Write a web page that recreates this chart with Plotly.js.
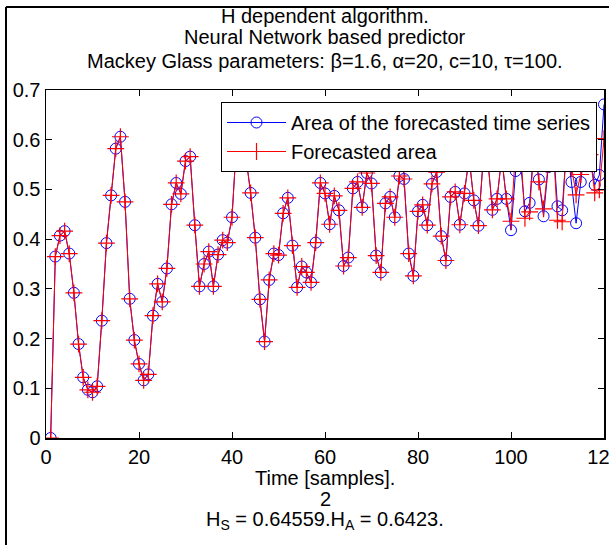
<!DOCTYPE html>
<html>
<head>
<meta charset="utf-8">
<script src="https://cdn.plot.ly/plotly-3.0.1.min.js"></script>
<style>
  html, body { margin: 0; padding: 0; background: #ffffff; }
  #chart { width: 609px; height: 545px; }
</style>
</head>
<body>
<div id="chart"></div>
<script>
// ---- data ----
const samples = [
  1,2,3,4,5,6,7,8,9,10,11,12,13,14,15,16,17,18,19,20,
  21,22,23,24,25,26,27,28,29,30,31,32,33,34,35,36,37,38,39,40,
  41,42,43,44,45,46,47,48,49,50,51,52,53,54,55,56,57,58,59,60,
  61,62,63,64,65,66,67,68,69,70,71,72,73,74,75,76,77,78,79,80,
  81,82,83,84,85,86,87,88,89,90,91,92,93,94,95,96,97,98,99,100,
  101,102,103,104,105,106,107,108,109,110,111,112,113,114,115,116,117,118,119,120
];

const areaSeries = [
  0.000,0.365,0.407,0.416,0.371,0.292,0.189,0.122,0.097,0.092,
  0.104,0.236,0.392,0.488,0.582,0.606,0.475,0.280,0.197,0.149,
  0.116,0.128,0.246,0.310,0.274,0.341,0.470,0.513,0.491,0.557,
  0.566,0.428,0.305,0.350,0.375,0.305,0.369,0.398,0.393,0.444,
  0.600,0.620,0.565,0.493,0.403,0.279,0.194,0.318,0.371,0.368,
  0.452,0.483,0.387,0.303,0.345,0.333,0.313,0.393,0.513,0.492,
  0.430,0.487,0.458,0.346,0.363,0.502,0.515,0.464,0.533,0.512,
  0.367,0.333,0.472,0.485,0.444,0.527,0.521,0.371,0.326,0.456,
  0.469,0.428,0.511,0.535,0.406,0.357,0.485,0.495,0.429,0.492,
  0.563,0.478,0.427,0.558,0.561,0.459,0.481,0.565,0.481,0.418,
  0.537,0.561,0.456,0.473,0.595,0.520,0.446,0.545,0.600,0.466,
  0.458,0.595,0.515,0.432,0.515,0.600,0.559,0.509,0.529,0.671
];

const forecastedArea = [
  0.000,0.365,0.407,0.416,0.371,0.292,0.189,0.122,0.097,0.092,
  0.104,0.236,0.392,0.488,0.582,0.606,0.475,0.280,0.197,0.149,
  0.116,0.128,0.246,0.310,0.274,0.341,0.470,0.513,0.491,0.557,
  0.566,0.428,0.305,0.350,0.375,0.305,0.369,0.398,0.393,0.444,
  0.600,0.620,0.565,0.493,0.403,0.279,0.194,0.318,0.371,0.368,
  0.452,0.483,0.387,0.303,0.345,0.333,0.313,0.393,0.513,0.492,
  0.430,0.487,0.458,0.346,0.363,0.502,0.515,0.464,0.533,0.512,
  0.367,0.333,0.472,0.485,0.444,0.527,0.521,0.371,0.326,0.456,
  0.469,0.428,0.511,0.535,0.406,0.357,0.485,0.495,0.429,0.492,
  0.563,0.478,0.427,0.558,0.561,0.459,0.481,0.565,0.481,0.436,
  0.580,0.590,0.442,0.455,0.595,0.515,0.461,0.550,0.600,0.438,
  0.435,0.605,0.542,0.489,0.530,0.610,0.570,0.493,0.499,0.602
];

const seriesNames = ['Area of the forecasted time series', 'Forecasted area'];
const titleLines = [
  'H dependent algorithm.',
  'Neural Network based predictor',
  'Mackey Glass parameters: \u03B2=1.6, \u03B1=20, c=10, \u03C4=100.'
];
const xLabelLines = ['Time [samples].', '2', 'H<sub>S</sub> = 0.64559.H<sub>A</sub> = 0.6423.'];
const xTicks = [0, 20, 40, 60, 80, 100, 120];
const yTicks = [0, 0.1, 0.2, 0.3, 0.4, 0.5, 0.6, 0.7];

// ---- drawing ----
const FONT = 'Arial, Liberation Sans, Helvetica, sans-serif';

const traces = [
  {
    x: samples, y: areaSeries, name: seriesNames[0],
    type: 'scatter', mode: 'lines+markers',
    line: { color: '#0000ff', width: 1 },
    marker: { symbol: 'circle-open', size: 11, color: '#0000ff', line: { color: '#0000ff', width: 1 } }
  },
  {
    x: samples, y: forecastedArea, name: seriesNames[1],
    type: 'scatter', mode: 'lines+markers',
    line: { color: '#ff0000', width: 1 },
    marker: { symbol: 'cross-thin', size: 12, color: '#ff0000', line: { color: '#ff0000', width: 1.2 } }
  }
];

const L = 46, R = 5, T = 90, B = 107, W = 609, H = 545;
const plotW = W - L - R, plotH = H - T - B;
const px2x = p => (p - L) / plotW;
const py2y = p => (H - B - p) / plotH;

const annotations = [];
[16, 37.5, 61].forEach((py, i) => {
  annotations.push({
    text: titleLines[i], xref: 'paper', yref: 'paper', x: 0.5, y: py2y(py),
    xanchor: 'center', yanchor: 'middle', showarrow: false,
    font: { family: FONT, size: 20, color: '#000' }
  });
});
[478, 499, 520].forEach((py, i) => {
  annotations.push({
    text: xLabelLines[i], xref: 'paper', yref: 'paper', x: 0.5, y: py2y(py),
    xanchor: 'center', yanchor: 'middle', showarrow: false,
    font: { family: FONT, size: 20, color: '#000' }
  });
});

const layout = {
  width: W, height: H,
  margin: { l: L, r: R, t: T, b: B, pad: 0 },
  paper_bgcolor: '#ffffff', plot_bgcolor: '#ffffff',
  font: { family: FONT, size: 20, color: '#000' },
  showlegend: true,
  legend: {
    x: px2x(221), y: py2y(102), xanchor: 'left', yanchor: 'top',
    bgcolor: '#ffffff', bordercolor: '#000000', borderwidth: 1,
    font: { family: FONT, size: 20, color: '#000' },
    itemwidth: 59, tracegroupgap: 0
  },
  xaxis: {
    range: [0, 120], tickvals: xTicks, ticktext: xTicks.map(String),
    ticks: 'inside', ticklen: 6, tickwidth: 1, tickcolor: '#000',
    showline: true, linecolor: '#000', linewidth: 1.5, mirror: 'ticks',
    showgrid: false, zeroline: false, ticklabeloverflow: 'allow',
    tickfont: { family: FONT, size: 20, color: '#000' }
  },
  yaxis: {
    range: [0, 0.7], tickvals: yTicks, ticktext: yTicks.map(v => v === 0 ? '0' : v.toFixed(1)),
    ticks: 'inside', ticklen: 6, tickwidth: 1, tickcolor: '#000',
    showline: true, linecolor: '#000', linewidth: 1.5, mirror: 'ticks',
    showgrid: false, zeroline: false, ticklabeloverflow: 'allow',
    tickfont: { family: FONT, size: 20, color: '#000' }
  },
  annotations: annotations,
  shapes: [
    { type: 'line', xref: 'paper', yref: 'paper', x0: px2x(6), x1: px2x(6), y0: py2y(7), y1: py2y(560),
      line: { color: '#000', width: 2 } },
    { type: 'line', xref: 'paper', yref: 'paper', x0: px2x(6), x1: px2x(640), y0: py2y(7), y1: py2y(7),
      line: { color: '#000', width: 2 } }
  ]
};

Plotly.newPlot('chart', traces, layout, { displayModeBar: false, staticPlot: true });
</script>
</body>
</html>
